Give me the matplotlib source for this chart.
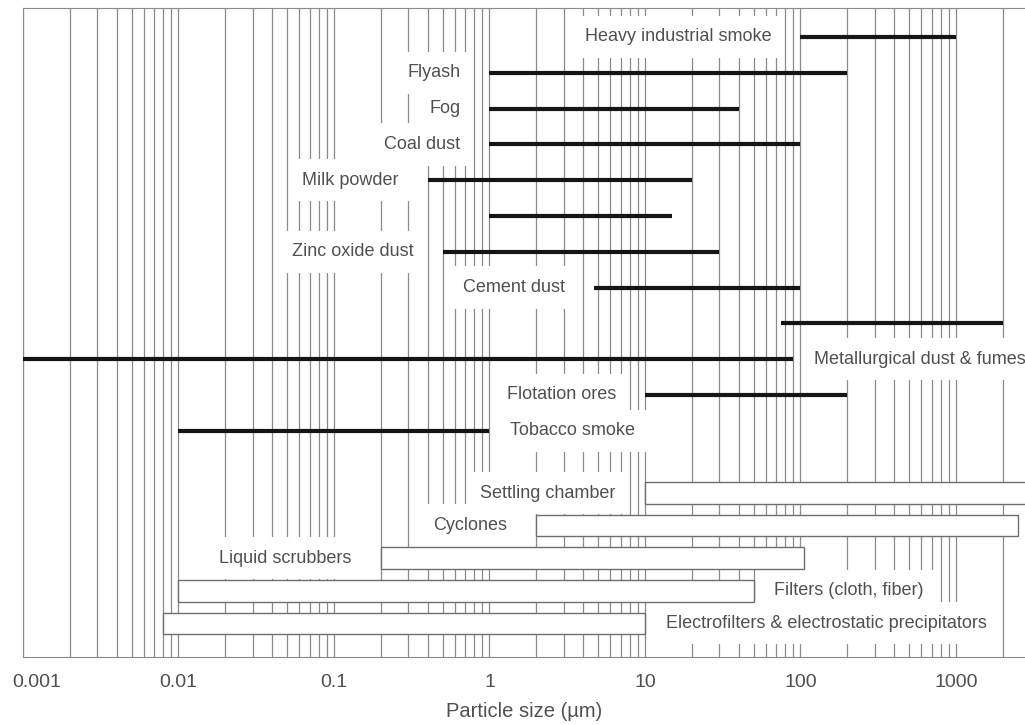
import numpy as np
import matplotlib.pyplot as plt
from matplotlib.ticker import LogLocator, NullFormatter
from matplotlib.transforms import ScaledTranslation

plt.rcParams['font.family'] = ['Liberation Sans', 'DejaVu Sans']

# particle size ranges (um)
dust_names = ["Heavy industrial smoke", "Flyash", "Fog", "Coal dust", "Milk powder", "",
              "Zinc oxide dust", "Cement dust", "", "Metallurgical dust & fumes",
              "Flotation ores", "Tobacco smoke"]
dust_lo = [100, 1, 1, 1, 0.4, 1, 0.5, 4.7, 75, 0.001, 10, 0.01]
dust_hi = [1000, 200, 40, 100, 20, 15, 30, 100, 2000, 90, 200, 1]
dust_side = ['left', 'left', 'left', 'left', 'left', '', 'left', 'left', '', 'right', 'left', 'right']

# collector ranges (um)
coll_names = ["Settling chamber", "Cyclones", "Liquid scrubbers",
              "Filters (cloth, fiber)", "Electrofilters & electrostatic precipitators"]
coll_lo = [10, 2, 0.2, 0.01, 0.008]
coll_hi = [5000, 2500, 105, 50, 10]
coll_side = ['left', 'left', 'left', 'right', 'right']

tick_vals = [0.001, 0.01, 0.1, 1, 10, 100, 1000]
tick_labels = ["0.001", "0.01", "0.1", "1", "10", "100", "1000"]

txt_col = '#505050'
grid_col = '#8a8a8a'

fig = plt.figure(figsize=(10.25, 7.25), dpi=100)
ax = fig.add_axes([23/1025, 68/725, 1002/1025, 649/725])
ax.set_xscale('log')
ax.set_xlim(0.001, 2780)
ax.set_ylim(17.32, -0.81)

dust_y = np.arange(len(dust_names))
coll_y = 12.74 + 0.91*np.arange(len(coll_names))

def put_label(name, y, lo, hi, side):
    if not name:
        return
    if side == 'left':
        ax.annotate(name, xy=(lo, y), xytext=(-21, 0), textcoords='offset points',
                    ha='right', va='center', fontsize=13, color=txt_col, zorder=2,
                    bbox=dict(boxstyle='square,pad=0.7', fc='white', ec='none'))
    else:
        ax.annotate(name, xy=(hi, y), xytext=(15, 0), textcoords='offset points',
                    ha='left', va='center', fontsize=13, color=txt_col, zorder=2,
                    bbox=dict(boxstyle='square,pad=0.7', fc='white', ec='none'))

for name, y, lo, hi, side in zip(dust_names, dust_y, dust_lo, dust_hi, dust_side):
    ax.plot([lo, hi], [y, y], color='#151515', lw=3.0, solid_capstyle='butt', zorder=4)
    put_label(name, y, lo, hi, side)

for name, y, lo, hi, side in zip(coll_names, coll_y, coll_lo, coll_hi, coll_side):
    ax.barh(y, np.array(hi) - np.array(lo), left=lo, height=0.6,
            color='white', edgecolor='#6e6e6e', lw=1.0, zorder=4)
    put_label(name, y, lo, hi, side)

# vertical grid
ax.set_axisbelow(True)
ax.xaxis.set_minor_locator(LogLocator(base=10, subs=np.arange(2, 10), numticks=100))
ax.xaxis.set_minor_formatter(NullFormatter())
ax.grid(True, which='both', axis='x', color=grid_col, lw=0.9)

ax.set_xticks(tick_vals)
ax.set_xticklabels(tick_labels)
ax.tick_params(axis='x', which='both', length=0, pad=12, labelsize=14, labelcolor=txt_col)
ax.set_yticks([])
first = ax.get_xticklabels()[0]
first.set_transform(first.get_transform() + ScaledTranslation(0.14, 0, fig.dpi_scale_trans))

for s in ['left', 'top', 'bottom']:
    ax.spines[s].set_color(grid_col)
ax.spines['right'].set_visible(False)

ax.set_xlabel('Particle size (\u00b5m)', fontsize=14.5, color=txt_col, labelpad=8)

plt.savefig('out.png', dpi=100)
